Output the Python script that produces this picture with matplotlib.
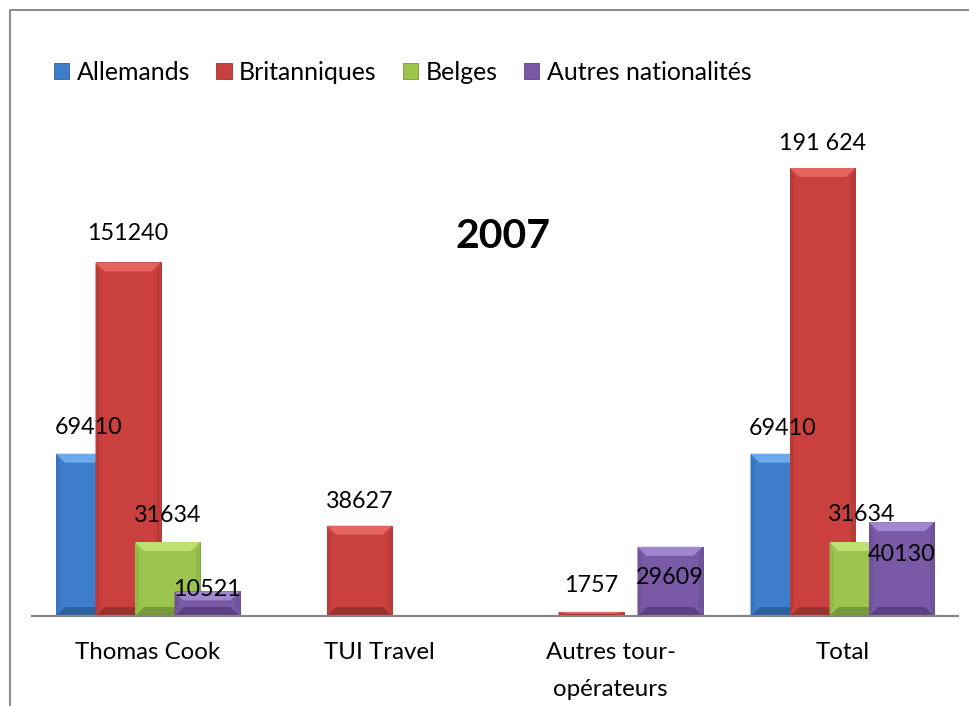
import matplotlib.pyplot as plt
import numpy as np
from matplotlib.lines import Line2D
from matplotlib.patches import Polygon

categories = ["Thomas Cook", "TUI Travel", "Autres tour-\nopérateurs", "Total"]
series = ["Allemands", "Britanniques", "Belges", "Autres nationalités"]
allemands = [69410, 0, 0, 69410]
britanniques = [151240, 38627, 1757, 191624]
belges = [31634, 0, 0, 31634]
autres_nat = [10521, 0, 29609, 40130]
label_text = [
    ["69410", "", "", "69410"],
    ["151240", "38627", "1757", "191 624"],
    ["31634", "", "", "31634"],
    ["10521", "", "29609", "40130"],
]
title = "2007"

# label centre offset above the bar top, in pixels (some labels were moved by hand)
label_dy = [
    [26, 0, 0, 25],
    [29, 24, 26, 24],
    [27, 0, 0, 28],
    [2, 0, -31, -32],
]

faces = ["#3d7dca", "#c9403e", "#9cc54d", "#7a5aa6"]
lights = ["#6aaaec", "#e46460", "#bfe074", "#a187cf"]
darks = ["#2d609f", "#9c302e", "#76993a", "#5a4182"]
sides = ["#3674c0", "#bb3a38", "#90b947", "#70519c"]

W, H, DPI = 969, 706, 100
FONT = "Lato"
plt.rcParams["font.family"] = [FONT, "DejaVu Sans"]

fig = plt.figure(figsize=(W / DPI, H / DPI), dpi=DPI)

ymax = 220000
px_per_y = 0.002338
ax_h = ymax * px_per_y
base_px = 616
ax = fig.add_axes([32 / W, (H - base_px) / H, 926 / W, ax_h / H])
ax.set_xlim(-0.5, 3.5)
ax.set_ylim(0, ymax)
px_per_x = 926 / 4

step = 39.5 / px_per_x
width = 65 / px_per_x
x = np.arange(len(categories))
values = [allemands, britanniques, belges, autres_nat]
BEVEL = 9


def add_bevel(rect, s, z):
    x0, y0 = rect.get_x(), rect.get_y()
    w, h = rect.get_width(), rect.get_height()
    if h <= 0:
        return
    bx = min(BEVEL / px_per_x, w / 2)
    by = min(BEVEL / px_per_y, h / 2)
    bxs = min(4 / px_per_x, w / 2)
    x1, y1 = x0 + w, y0 + h
    top = [(x0, y1), (x1, y1), (x1 - bx, y1 - by), (x0 + bx, y1 - by)]
    bottom = [(x0, y0), (x1, y0), (x1 - bx, y0 + by), (x0 + bx, y0 + by)]
    left = [(x0, y0), (x0 + bxs, y0 + by), (x0 + bxs, y1 - by), (x0, y1)]
    right = [(x1, y0), (x1 - bxs, y0 + by), (x1 - bxs, y1 - by), (x1, y1)]
    for pts, c in [(left, sides[s]), (right, sides[s]), (bottom, darks[s]), (top, lights[s])]:
        ax.add_patch(Polygon(pts, closed=True, facecolor=c, edgecolor="none", zorder=z + 0.01))


for s, vals in enumerate(values):
    z = 2 + s * 0.1
    bars = ax.bar(x + (s - 1.5) * step, vals, width, color=faces[s],
                  edgecolor=darks[s], linewidth=0.6, label=series[s], zorder=z)
    for i, rect in enumerate(bars):
        add_bevel(rect, s, z)

for s, vals in enumerate(values):
    for i, v in enumerate(vals):
        if v <= 0:
            continue
        ax.annotate(label_text[s][i], xy=(x[i] + (s - 1.5) * step, v),
                    xytext=(0, label_dy[s][i] * 72 / DPI), textcoords="offset points",
                    ha="center", va="center", fontsize=16.8, color="black", zorder=10)

for side in ["top", "right", "left"]:
    ax.spines[side].set_visible(False)
ax.spines["bottom"].set_color("#868686")
ax.spines["bottom"].set_linewidth(1.6)
ax.set_yticks([])
ax.set_xticks(x)
ax.set_xticklabels(categories, fontsize=17.3, linespacing=1.9)
ax.tick_params(axis="x", length=0, pad=19)

fig.text(503 / W, 1 - 237 / H, title, ha="center", va="center",
         fontsize=29.5, fontweight="bold")

ax.legend(loc="center left", bbox_to_anchor=(54 / W, 1 - 72 / H),
          bbox_transform=fig.transFigure, ncol=4, frameon=False, fontsize=17.9,
          handlelength=0.62, handleheight=0.62, handletextpad=0.3,
          columnspacing=1.05, borderpad=0, borderaxespad=0)

# outer chart frame (only its left and top sides are inside the picture)
fig.add_artist(Line2D([9.5 / W, 9.5 / W, 1.01], [-0.01, 1 - 9.5 / H, 1 - 9.5 / H],
                      transform=fig.transFigure, color="#8c8c8c", linewidth=1.5))

fig.savefig("out.png", dpi=DPI)
